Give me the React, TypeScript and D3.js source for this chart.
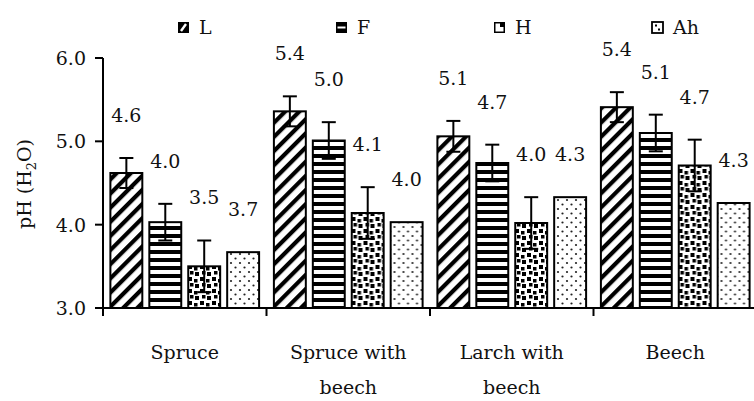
import React, { useEffect, useRef } from "react";
import * as d3 from "d3";

// categories (line breaks as in the original axis)
const categories = ["Spruce", "Spruce with\nbeech", "Larch with\nbeech", "Beech"];
const seriesNames = ["L", "F", "H", "Ah"];

// mean pH per horizon
const lValues = [4.62, 5.36, 5.06, 5.41];
const fValues = [4.03, 5.01, 4.74, 5.1];
const hValues = [3.5, 4.14, 4.02, 4.71];
const ahValues = [3.67, 4.03, 4.33, 4.26];

// error bar half-widths (Ah has none)
const lErrors = [0.18, 0.18, 0.185, 0.18];
const fErrors = [0.22, 0.22, 0.22, 0.22];
const hErrors = [0.31, 0.31, 0.31, 0.31];
const ahErrors = [0, 0, 0, 0];

const yTicks = [3.0, 4.0, 5.0, 6.0];

const WIDTH = 754;
const HEIGHT = 401;
const FONT = "'DejaVu Serif', serif";

const App = () => {
  const ref = useRef<SVGSVGElement | null>(null);

  useEffect(() => {
    if (!ref.current) return;
    const svg = d3.select(ref.current);
    svg.selectAll("*").remove();

    const series = [
      { name: seriesNames[0], values: lValues, errors: lErrors, fill: "url(#pL)" },
      { name: seriesNames[1], values: fValues, errors: fErrors, fill: "url(#pF)" },
      { name: seriesNames[2], values: hValues, errors: hErrors, fill: "url(#pH)" },
      { name: seriesNames[3], values: ahValues, errors: ahErrors, fill: "url(#pAh)" },
    ];

    const left = 103;
    const right = 757;
    const top = 58;
    const bottom = 308;

    const x0 = d3.scaleBand().domain(categories).range([left, right]).padding(0);
    const x1 = d3
      .scaleBand()
      .domain(seriesNames)
      .range([0, x0.bandwidth()])
      .paddingInner(0.18)
      .paddingOuter(0.19);
    const y = d3.scaleLinear().domain([3, 6]).range([bottom, top]);

    // patterns
    const defs = svg.append("defs");
    const pL = defs
      .append("pattern")
      .attr("id", "pL")
      .attr("patternUnits", "userSpaceOnUse")
      .attr("width", 10)
      .attr("height", 10)
      .attr("patternTransform", "rotate(45)");
    pL.append("rect").attr("width", 10).attr("height", 10).attr("fill", "#fff");
    pL.append("rect").attr("width", 4.2).attr("height", 10).attr("fill", "#000");

    const pF = defs
      .append("pattern")
      .attr("id", "pF")
      .attr("patternUnits", "userSpaceOnUse")
      .attr("width", 8)
      .attr("height", 8);
    pF.append("rect").attr("width", 8).attr("height", 8).attr("fill", "#fff");
    pF.append("rect").attr("y", 2).attr("width", 8).attr("height", 4).attr("fill", "#000");

    const pH = defs
      .append("pattern")
      .attr("id", "pH")
      .attr("patternUnits", "userSpaceOnUse")
      .attr("width", 12)
      .attr("height", 12);
    pH.append("rect").attr("width", 12).attr("height", 12).attr("fill", "#fff");
    [
      [1, 1, 4],
      [7, 3, 3.5],
      [3, 7, 3.5],
      [8, 8, 4],
    ].forEach(([px, py, s]) => {
      pH.append("rect").attr("x", px).attr("y", py).attr("width", s).attr("height", s).attr("fill", "#000");
    });

    const pAh = defs
      .append("pattern")
      .attr("id", "pAh")
      .attr("patternUnits", "userSpaceOnUse")
      .attr("width", 9)
      .attr("height", 9);
    pAh.append("rect").attr("width", 9).attr("height", 9).attr("fill", "#fff");
    pAh.append("circle").attr("cx", 2).attr("cy", 2).attr("r", 1.1).attr("fill", "#222");
    pAh.append("circle").attr("cx", 6.5).attr("cy", 6.5).attr("r", 1.1).attr("fill", "#222");

    // bars
    const groups = svg
      .append("g")
      .selectAll("g")
      .data(categories)
      .join("g")
      .attr("transform", (d) => `translate(${x0(d)},0)`);

    series.forEach((s) => {
      groups
        .append("rect")
        .attr("x", x1(s.name)!)
        .attr("y", (_, i) => y(s.values[i]))
        .attr("width", x1.bandwidth())
        .attr("height", (_, i) => y(3) - y(s.values[i]))
        .attr("fill", s.fill)
        .attr("stroke", "#000")
        .attr("stroke-width", 2);
    });

    // error bars
    const cap = 7;
    series.forEach((s) => {
      groups.each(function (_, i) {
        if (!s.errors[i]) return;
        const g = d3.select(this);
        const cx = x1(s.name)! + x1.bandwidth() / 2;
        const hi = y(s.values[i] + s.errors[i]);
        const lo = y(s.values[i] - s.errors[i]);
        g.append("line").attr("x1", cx).attr("x2", cx).attr("y1", hi).attr("y2", lo);
        g.append("line").attr("x1", cx - cap).attr("x2", cx + cap).attr("y1", hi).attr("y2", hi);
        g.append("line").attr("x1", cx - cap).attr("x2", cx + cap).attr("y1", lo).attr("y2", lo);
      });
    });
    groups.selectAll("line").attr("stroke", "#000").attr("stroke-width", 2);

    // value labels
    series.forEach((s) => {
      groups
        .append("text")
        .attr("x", x1(s.name)! + x1.bandwidth() / 2)
        .attr("y", (_, i) => y(s.values[i] + s.errors[i]) - 43)
        .attr("dy", "0.36em")
        .attr("text-anchor", "middle")
        .style("font-family", FONT)
        .style("font-size", "19px")
        .attr("fill", "#111")
        .text((_, i) => s.values[i].toFixed(1));
    });

    // y axis
    const axis = svg.append("g");
    axis
      .append("line")
      .attr("x1", left)
      .attr("x2", left)
      .attr("y1", top)
      .attr("y2", bottom + 8)
      .attr("stroke", "#000")
      .attr("stroke-width", 2);
    yTicks.forEach((t) => {
      axis
        .append("line")
        .attr("x1", left - 8)
        .attr("x2", left)
        .attr("y1", y(t))
        .attr("y2", y(t))
        .attr("stroke", "#000")
        .attr("stroke-width", 2);
      axis
        .append("text")
        .attr("x", left - 17)
        .attr("y", y(t))
        .attr("dy", "0.36em")
        .attr("text-anchor", "end")
        .style("font-family", FONT)
        .style("font-size", "19px")
        .attr("fill", "#111")
        .text(t.toFixed(1));
    });

    // x axis
    axis
      .append("line")
      .attr("x1", left - 8)
      .attr("x2", right)
      .attr("y1", bottom)
      .attr("y2", bottom)
      .attr("stroke", "#000")
      .attr("stroke-width", 2);
    categories.forEach((c) => {
      const bx = x0(c)! + x0.bandwidth();
      axis
        .append("line")
        .attr("x1", bx)
        .attr("x2", bx)
        .attr("y1", bottom)
        .attr("y2", bottom + 8)
        .attr("stroke", "#000")
        .attr("stroke-width", 2);
      const t = axis
        .append("text")
        .attr("text-anchor", "middle")
        .style("font-family", FONT)
        .style("font-size", "19px")
        .attr("fill", "#111");
      c.split("\n").forEach((line, k) => {
        t.append("tspan")
          .attr("x", x0(c)! + x0.bandwidth() / 2)
          .attr("y", 359 + k * 35)
          .text(line);
      });
    });

    // y title
    const yt = svg
      .append("text")
      .attr("transform", `translate(31,184) rotate(-90)`)
      .attr("text-anchor", "middle")
      .style("font-family", FONT)
      .style("font-size", "19px")
      .attr("fill", "#111");
    yt.append("tspan").text("pH (H");
    yt.append("tspan").attr("dy", 5).style("font-size", "13px").text("2");
    yt.append("tspan").attr("dy", -5).text("O)");

    // legend
    const legend = svg.append("g");
    series.forEach((s, i) => {
      const lx = 178 + i * 158;
      const g = legend.append("g").attr("transform", `translate(${lx},22)`);
      if (s.name === "Ah") {
        g.append("rect").attr("width", 11).attr("height", 11).attr("fill", "#fff").attr("stroke", "#000").attr("stroke-width", 1.8);
        g.append("rect").attr("x", 3).attr("y", 2.5).attr("width", 2).attr("height", 2).attr("fill", "#000");
        g.append("rect").attr("x", 6).attr("y", 6.5).attr("width", 2).attr("height", 2).attr("fill", "#000");
      } else {
        g.append("rect").attr("width", 11).attr("height", 11).attr("fill", "#000");
        if (s.name === "L") {
          g.append("path").attr("d", "M3,9 L8,2").attr("stroke", "#fff").attr("stroke-width", 2.4);
        } else if (s.name === "F") {
          g.append("rect").attr("x", 1.5).attr("y", 4.5).attr("width", 8).attr("height", 2).attr("fill", "#fff");
        } else {
          g.append("rect").attr("x", 1.5).attr("y", 1.5).attr("width", 4.5).attr("height", 3.5).attr("fill", "#fff");
          g.append("rect").attr("x", 1.5).attr("y", 5).attr("width", 8).attr("height", 4.5).attr("fill", "#fff");
          g.append("rect").attr("x", 6).attr("y", 2.5).attr("width", 2).attr("height", 2).attr("fill", "#000");
        }
      }
      g.append("text")
        .attr("x", 21)
        .attr("y", 12)
        .style("font-family", FONT)
        .style("font-size", "19px")
        .attr("fill", "#111")
        .text(s.name);
    });
  }, []);

  return (
    <svg
      ref={ref}
      width={WIDTH}
      height={HEIGHT}
      style={{ position: "absolute", left: 0, top: 0, background: "#fff" }}
    />
  );
};

export default App;
